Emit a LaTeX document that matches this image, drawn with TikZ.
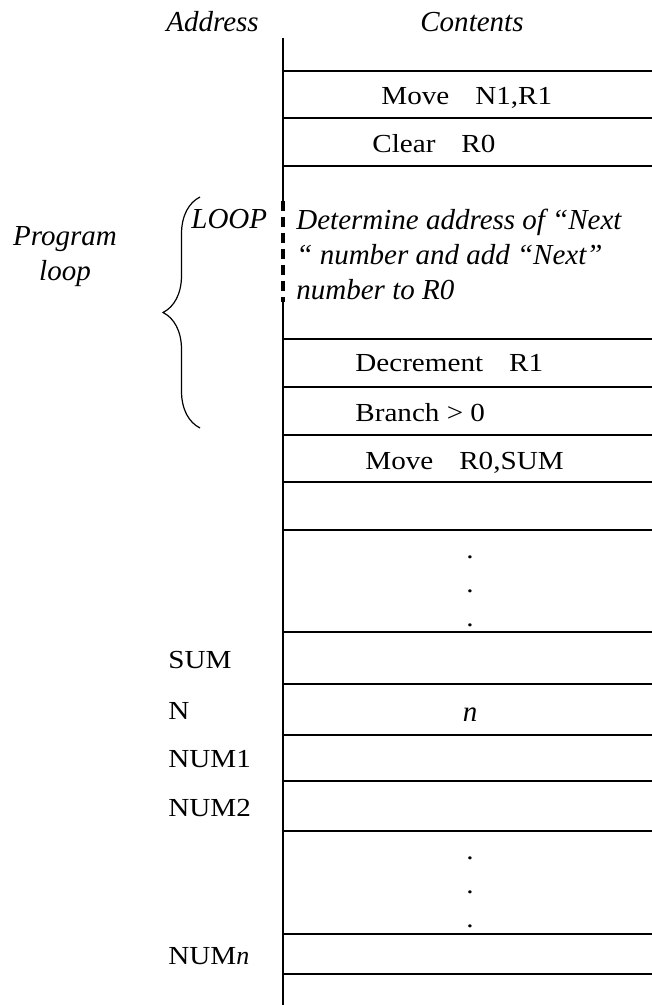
\documentclass[tikz,border=0pt]{standalone}
\usepackage{fontspec}
\setmainfont{Liberation Serif}[FakeStretch=1.12]
\newfontfamily\slfont{Liberation Serif}
\usetikzlibrary{decorations.pathreplacing, positioning}
\newcommand{\cellfont}{\fontsize{13}{16}\selectfont}
\newcommand{\itfont}{\slfont\fontsize{14.5}{17.5}\selectfont\itshape}

\begin{document}
\begin{tikzpicture}[x=0.5pt, y=-0.5pt]
\tikzstyle{cell} = [font=\cellfont, inner sep=0pt, anchor=base west]
\tikzstyle{ital} = [font=\itfont, inner sep=0pt]
\tikzstyle{wall} = [line width=1pt]
\tikzstyle{dotmark} = [font=\cellfont, inner sep=0pt, anchor=base]

\useasboundingbox (0,0) rectangle (652,1005);

% headings
\node (address) [ital, anchor=base west] at (166,32) {Address};
\node (contents) [ital, anchor=base west] at (420,32) {Contents};

% memory column
\coordinate (top) at (283,38);
\coordinate (gapA) at (283,201);
\coordinate (gapB) at (283,302);
\coordinate (bottom) at (283,1005);
\draw[wall] (top) -- (gapA);
\draw[line width=2pt, dash pattern=on 5pt off 3pt] (gapA) -- (gapB);
\draw[wall] (gapB) -- (bottom);
\foreach \y in {71,118,166,339,387,435,482,530,632,684,735,781,831,934,974}
    \draw[wall] (283,\y) -- (652,\y);

% program
\node (move1) [cell] at (381,105) {Move\quad N1,R1};
\node (clear) [cell] at (372,153) {Clear\quad R0};
\node (loop) [ital, anchor=base west] at (191,229) {LOOP};
\node (body) [ital, align=left, anchor=north west] at (296,209) {Determine address of “Next\\“ number and add “Next”\\number to R0};
\node (decr) [cell] at (355,371) {Decrement\quad R1};
\node (branch) [cell] at (355,421) {Branch > 0};
\node (move2) [cell] at (365,469) {Move\quad R0,SUM};
\foreach \y [count=\i] in {558,592,626}
    \node (dotA\i) [dotmark] at (470,\y) {.};

% program loop brace
\coordinate (bracebot) at (200,428);
\coordinate (bracetop) at (200,197);
\draw[line width=0.6pt, decorate, decoration={brace, amplitude=18.5pt}] (bracebot) -- (bracetop);
\node (prog) [ital, align=center, anchor=north] at (65,226) {Program\\loop};

% data
\node (sum) [cell] at (168,668) {SUM};
\node (n) [cell] at (168,719) {N};
\node (nval) [ital, anchor=base] at (470,721) {n};
\node (num1) [cell] at (168,767) {NUM1};
\node (num2) [cell] at (168,816) {NUM2};
\foreach \y [count=\i] in {859,893,927}
    \node (dotB\i) [dotmark] at (470,\y) {.};
\node (numn) [cell] at (168,964) {NUM{\slfont\itshape n}};

\end{tikzpicture}
\end{document}
